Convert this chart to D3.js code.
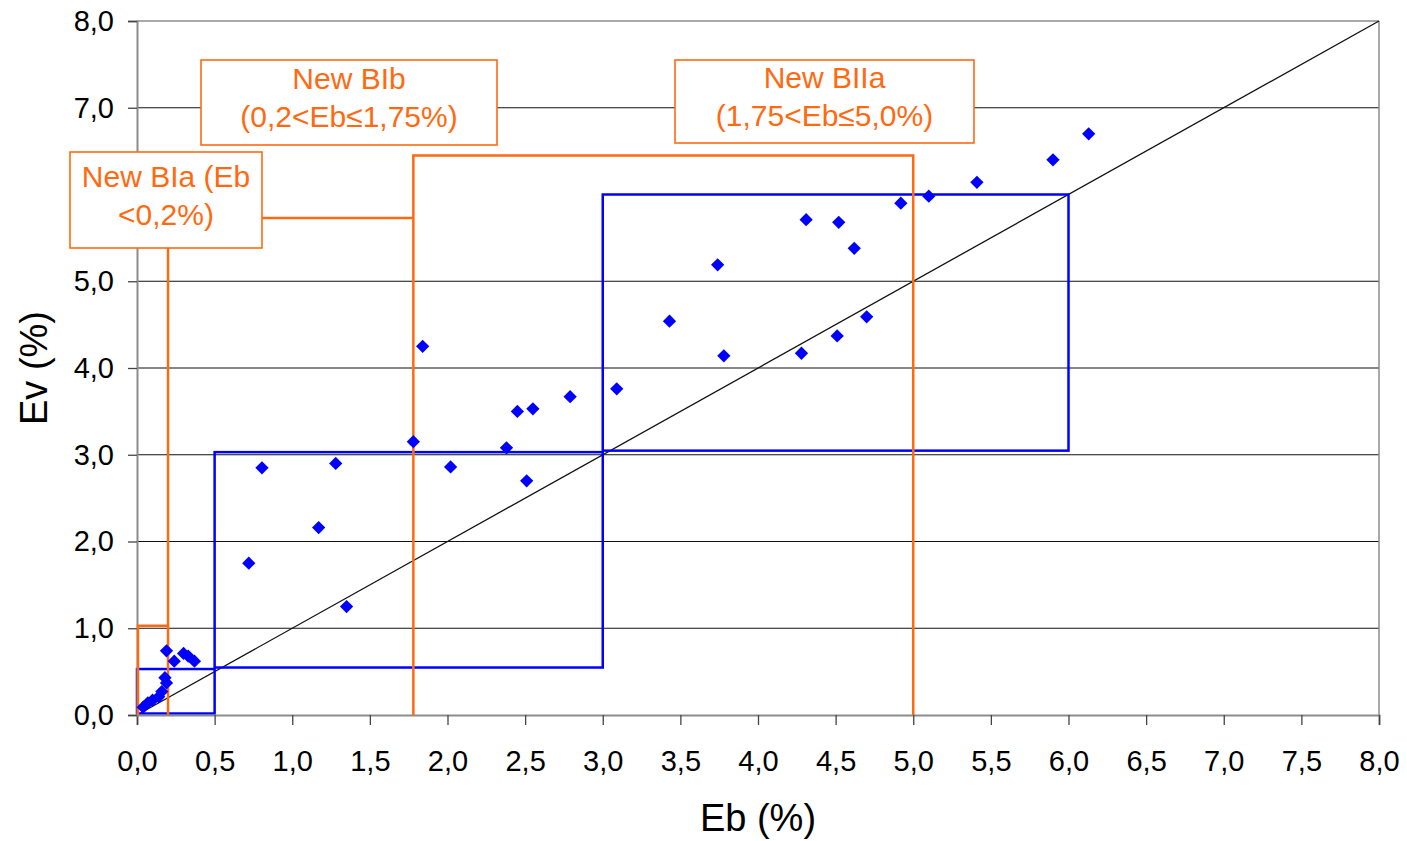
<!DOCTYPE html>
<html><head><meta charset="utf-8">
<script src="https://cdn.jsdelivr.net/npm/d3@7"></script>
<style>body{margin:0;background:#fff} text{font-family:"Liberation Sans",Arial,sans-serif}</style>
</head><body><svg id="c" width="1407" height="841"></svg>
<script>
// ---- data ----
const xTicks = [0,0.5,1,1.5,2,2.5,3,3.5,4,4.5,5,5.5,6,6.5,7,7.5,8];
const yTicks = [0,1,2,3,4,5,7,8]; // the 6,0 label is hidden behind the BIa label box
const gridValues = [1,2,3,4,5,7];
const ebValues = [0.04,0.07,0.10,0.14,0.16,0.19,0.18,0.19,0.24,0.30,0.33,0.37,
  0.72,0.805,1.17,1.28,1.35,1.78,1.84,2.02,2.38,2.45,2.51,2.55,2.79,3.09,
  3.43,3.74,3.78,4.28,4.31,4.51,4.52,4.62,4.70,4.92,5.10,5.41,5.90,6.13];
const evValues = [0.09,0.14,0.17,0.21,0.27,0.37,0.43,0.74,0.62,0.71,0.68,0.62,
  1.75,2.85,2.16,2.90,1.25,3.15,4.25,2.86,3.08,3.50,2.70,3.53,3.67,3.76,
  4.54,5.19,4.14,4.17,5.71,4.37,5.68,5.38,4.59,5.90,5.98,6.14,6.40,6.70];
const blueX0 = [0, 0.5, 3.0];
const blueX1 = [0.5, 3.0, 6.0];
const blueY0 = [0, 0.53, 3.03];
const blueY1 = [0.53, 3.03, 6.0];
// orange class boundaries (Eb) and region heights (Ev)
const classEb = [0, 0.2, 1.78, 5.0];
const classTop = [1.03, 5.73, 6.45];
const labelLines = [
  ["New BIa (Eb", "<0,2%)"],
  ["New BIb", "(0,2<Eb≤1,75%)"],
  ["New BIIa", "(1,75<Eb≤5,0%)"]
];
const fmt = v => v.toFixed(1).replace(".", ",");

// ---- layout ----
const W = 1407, H = 841;
const m = {l:137, t:21, r:28, b:126};
const svg = d3.select("#c");
const x = d3.scaleLinear().domain([0,8]).range([m.l, W - m.r]);
const y = d3.scaleLinear().domain([0,8]).range([H - m.b, m.t]);
const ORANGE = "#FF6A10", BLUE = "#0000FF", GRAY = "#8c8c8c";

// gridlines
svg.append("g").selectAll("line").data(gridValues).join("line")
  .attr("x1", x(0)).attr("x2", x(8))
  .attr("y1", d => y(d)).attr("y2", d => y(d))
  .attr("stroke", "#111").attr("stroke-width", 1.1);

// plot border top/right
svg.append("line").attr("x1", x(0)).attr("x2", x(8)).attr("y1", y(8)).attr("y2", y(8))
  .attr("stroke", GRAY).attr("stroke-width", 1.5);
svg.append("line").attr("x1", x(8)).attr("x2", x(8)).attr("y1", y(8)).attr("y2", y(0))
  .attr("stroke", GRAY).attr("stroke-width", 1.5);

// diagonal
svg.append("line").attr("x1", x(0)).attr("y1", y(0)).attr("x2", x(8)).attr("y2", y(8))
  .attr("stroke", "#111").attr("stroke-width", 1.3);

// blue boxes
svg.append("g").selectAll("rect").data(blueX0).join("rect")
  .attr("x", (d,i) => x(blueX0[i]))
  .attr("y", (d,i) => y(blueY1[i]))
  .attr("width", (d,i) => x(blueX1[i]) - x(blueX0[i]))
  .attr("height", (d,i) => y(blueY0[i]) - y(blueY1[i]) - 1.5)
  .attr("fill", "none").attr("stroke", BLUE).attr("stroke-width", 2.5);

// axes
const xAxis = d3.axisBottom(x).tickValues(xTicks).tickFormat(fmt).tickSize(10).tickPadding(25);
const gx = svg.append("g").attr("transform", `translate(0,${y(0)})`).call(xAxis);
gx.select(".domain").attr("stroke", GRAY).attr("stroke-width", 2);
gx.selectAll(".tick line").attr("stroke", "#444").attr("stroke-width", 1.3);
gx.selectAll(".tick text").attr("font-size", 29).attr("fill", "#000")
  .attr("font-family", '"Liberation Sans",Arial,sans-serif');

const yAxis = d3.axisLeft(y).tickValues(yTicks).tickFormat(fmt).tickSize(9).tickPadding(14);
const gy = svg.append("g").attr("transform", `translate(${x(0)},0)`).call(yAxis);
gy.select(".domain").attr("stroke", GRAY).attr("stroke-width", 2);
gy.selectAll(".tick line").attr("stroke", "#444").attr("stroke-width", 1.3);
gy.selectAll(".tick text").attr("font-size", 29).attr("fill", "#000")
  .attr("font-family", '"Liberation Sans",Arial,sans-serif');

// orange class lines
const oc = svg.append("g").attr("fill","none").attr("stroke", ORANGE).attr("stroke-width", 2.5);
oc.append("path").attr("d", `M${x(classEb[0])+1},${y(0)} V${y(classTop[0])} H${x(classEb[1])}`);
const boxA = {x0:70, x1:262, y0:152, y1:248};
oc.append("path").attr("d", `M${x(classEb[1])},${y(0)} V${boxA.y1}`);
oc.append("path").attr("d", `M${boxA.x1},${y(classTop[1])} H${x(classEb[2])}`);
oc.append("path").attr("d", `M${x(classEb[2])},${y(0)} V${y(classTop[2])} H${x(classEb[3])} V${y(0)}`);

// points
const diamond = d3.symbol().type(d3.symbolSquare).size(88);
svg.append("g").selectAll("path").data(ebValues).join("path")
  .attr("d", diamond)
  .attr("transform", (d,i) => `translate(${x(ebValues[i])},${y(evValues[i])}) rotate(45)`)
  .attr("fill", BLUE);

// label boxes
const boxes = [
  boxA,
  {x0:201, x1:497, y0:60, y1:145},
  {x0:675, x1:974, y0:60, y1:143}
];
boxes.forEach((b,i) => {
  svg.append("rect").attr("x", b.x0).attr("y", b.y0).attr("width", b.x1-b.x0).attr("height", b.y1-b.y0)
    .attr("fill", "#fff").attr("stroke", ORANGE).attr("stroke-width", 1.6);
  const cx = (b.x0+b.x1)/2, cy = (b.y0+b.y1)/2;
  labelLines[i].forEach((t,j) => {
    svg.append("text").attr("x", cx).attr("y", cy + (j===0 ? -24 : 14)).attr("dy","0.36em")
      .attr("text-anchor","middle").attr("font-size", 30).attr("fill", ORANGE).text(t);
  });
});

// axis titles
svg.append("text").attr("x", 758).attr("y", 818).attr("dy","0.34em").attr("text-anchor","middle")
  .attr("font-size", 38).attr("fill","#000").text("Eb (%)");
svg.append("text").attr("transform","translate(33,368) rotate(-90)").attr("dy","0.36em")
  .attr("text-anchor","middle").attr("font-size", 38).attr("fill","#000").text("Ev (%)");
</script></body></html>
